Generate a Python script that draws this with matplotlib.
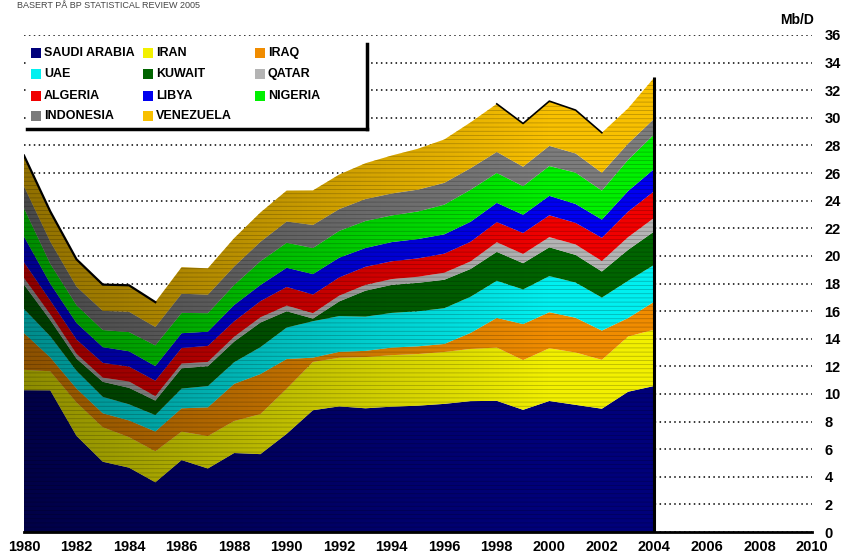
import matplotlib
matplotlib.use("Agg")
from matplotlib import pyplot as plt
from matplotlib.patches import Rectangle
from matplotlib.lines import Line2D
from matplotlib.colors import to_rgb
import numpy as np

plt.rcParams['font.family'] = ['Liberation Sans', 'DejaVu Sans']
plt.rcParams['hatch.linewidth'] = 0.5

# OPEC oil production, Mb/D
years = list(range(1980, 2005))
saudi = [10.27, 10.26, 6.96, 5.09, 4.66, 3.60, 5.21, 4.60, 5.72, 5.64, 7.11, 8.82, 9.10, 8.96, 9.08,
         9.15, 9.28, 9.48, 9.50, 8.85, 9.49, 9.21, 8.93, 10.16, 10.58]
iran = [1.48, 1.38, 2.42, 2.50, 2.21, 2.25, 2.06, 2.35, 2.32, 2.90, 3.27, 3.50, 3.52, 3.71, 3.73,
        3.74, 3.76, 3.78, 3.86, 3.60, 3.82, 3.79, 3.54, 4.00, 4.08]
iraq = [2.66, 1.01, 1.01, 1.01, 1.21, 1.43, 1.69, 2.08, 2.69, 2.90, 2.15, 0.31, 0.43, 0.45, 0.55,
        0.56, 0.58, 1.16, 2.15, 2.61, 2.61, 2.52, 2.12, 1.34, 2.03]
uae = [1.75, 1.53, 1.29, 1.19, 1.17, 1.19, 1.43, 1.54, 1.57, 1.95, 2.28, 2.64, 2.59, 2.48, 2.51,
       2.54, 2.59, 2.62, 2.69, 2.51, 2.62, 2.55, 2.39, 2.70, 2.67]
kuwait = [1.76, 1.17, 0.88, 1.09, 1.19, 1.05, 1.47, 1.44, 1.49, 1.78, 1.18, 0.19, 1.06, 1.88, 2.03,
          2.06, 2.06, 2.01, 2.09, 1.90, 2.08, 2.00, 1.89, 2.24, 2.42]
qatar = [0.48, 0.42, 0.34, 0.30, 0.46, 0.32, 0.34, 0.31, 0.35, 0.38, 0.41, 0.39, 0.42, 0.42, 0.42,
         0.44, 0.51, 0.55, 0.70, 0.67, 0.74, 0.76, 0.76, 0.92, 0.99]
algeria = [1.14, 1.00, 1.04, 1.07, 1.08, 1.12, 1.13, 1.16, 1.12, 1.17, 1.35, 1.35, 1.32, 1.31, 1.29,
           1.33, 1.38, 1.42, 1.46, 1.52, 1.58, 1.56, 1.68, 1.85, 1.93]
libya = [1.86, 1.22, 1.20, 1.14, 1.11, 1.06, 1.07, 1.03, 1.18, 1.17, 1.39, 1.48, 1.43, 1.36, 1.39,
         1.40, 1.40, 1.45, 1.39, 1.32, 1.41, 1.37, 1.32, 1.49, 1.61]
nigeria = [2.06, 1.44, 1.29, 1.24, 1.39, 1.50, 1.47, 1.34, 1.45, 1.72, 1.81, 1.89, 1.94, 1.96, 1.93,
           2.00, 2.15, 2.32, 2.17, 2.07, 2.16, 2.27, 2.10, 2.26, 2.51]
indonesia = [1.58, 1.61, 1.34, 1.39, 1.47, 1.33, 1.39, 1.34, 1.34, 1.41, 1.54, 1.67, 1.58, 1.59, 1.59,
             1.58, 1.58, 1.56, 1.52, 1.41, 1.46, 1.39, 1.29, 1.18, 1.13]
venezuela = [2.23, 2.18, 1.98, 1.90, 1.92, 1.80, 1.92, 1.91, 2.05, 2.12, 2.24, 2.50, 2.50, 2.59, 2.75,
             2.96, 3.14, 3.32, 3.48, 3.13, 3.24, 3.14, 2.90, 2.55, 2.98]

names = ['SAUDI ARABIA', 'IRAN', 'IRAQ', 'UAE', 'KUWAIT', 'QATAR',
         'ALGERIA', 'LIBYA', 'NIGERIA', 'INDONESIA', 'VENEZUELA']
series = [saudi, iran, iraq, uae, kuwait, qatar, algeria, libya, nigeria, indonesia, venezuela]
colors = ['#00007a', '#f2f000', '#f08c00', '#00f0f0', '#006400', '#b4b4b4',
          '#f00000', '#0000f0', '#00f000', '#7c7c7c', '#f8c000']

fig = plt.figure(figsize=(8.44, 5.56), dpi=100)
ax = fig.add_axes([24 / 844, 24 / 556, (812 - 24) / 844, (532 - 35) / 556])

yrs = np.array(years)
data = np.array(series)
total = data.sum(axis=0)

polys = ax.stackplot(yrs, data, colors=colors, linewidth=0, zorder=2)
for p, c in zip(polys, colors):
    dark = tuple(v * 0.72 for v in to_rgb(c))
    p.set_edgecolor(dark)
    p.set_linewidth(0)
    p.set_hatch('----')

# darker shading towards the left, like the original 3D rendering
shade = np.zeros((1, 240, 4))
fade = np.clip(np.linspace(0.42, -0.08, 240), 0, None)
shade[0, :, 3] = fade
im = ax.imshow(shade, extent=[1980, 2004, 0, 36], aspect='auto', zorder=3, interpolation='bilinear')
outline = ax.fill_between(yrs, 0, total, facecolor='none', linewidth=0)
im.set_clip_path(outline.get_paths()[0], ax.transData)

# black edges
ax.plot(yrs[:6], total[:6], color='black', lw=1.6, zorder=4)
ax.plot(yrs[18:23], total[18:23], color='black', lw=1.2, zorder=4)
ax.vlines(yrs[-1], 0, total[-1], color='black', lw=2.2, zorder=4)

ax.set_xlim(1980, 2010)
ax.set_ylim(0, 36)
ax.set_xticks(range(1980, 2011, 2))
ax.set_yticks(range(0, 37, 2))
ax.yaxis.tick_right()
ax.tick_params(axis='both', length=0, labelsize=10.5)
ax.tick_params(axis='y', pad=9)
ax.tick_params(axis='x', pad=6)
for lab in ax.get_xticklabels() + ax.get_yticklabels():
    lab.set_fontweight('bold')
ax.grid(axis='y', color='black', linestyle=(0, (1, 2.2)), linewidth=1.1, zorder=1)
ax.set_axisbelow(True)
for s in ['top', 'left', 'right']:
    ax.spines[s].set_visible(False)
ax.spines['bottom'].set_linewidth(2)
ax.spines['bottom'].set_zorder(5)

fig.text(797 / 844, 1 - 20 / 556, 'Mb/D', ha='center', va='center', fontsize=10, fontweight='bold')
fig.text(17 / 844, 1 - 1 / 556, 'BASERT PÅ BP STATISTICAL REVIEW 2005', ha='left', va='top',
         fontsize=6.5, color='#444444')

# legend box
W, H = 844, 556
fig.patches.append(Rectangle((27 / W, 1 - 129 / H), 340 / W, 86 / H, transform=fig.transFigure,
                             facecolor='white', edgecolor='none', zorder=5))
fig.lines.append(Line2D([367 / W, 367 / W], [1 - 44 / H, 1 - 129 / H], transform=fig.transFigure,
                        color='black', lw=2.5, zorder=6))
fig.lines.append(Line2D([27 / W, 367 / W], [1 - 129 / H, 1 - 129 / H], transform=fig.transFigure,
                        color='black', lw=2.5, zorder=6))
col_x = [31, 143, 255]
row_y = [53, 74, 96, 116]
for i, (name, c) in enumerate(zip(names, colors)):
    x0 = col_x[i % 3]
    y0 = row_y[i // 3]
    fig.patches.append(Rectangle((x0 / W, 1 - (y0 + 5) / H), 10 / W, 10 / H, transform=fig.transFigure,
                                 facecolor=c, edgecolor='none', zorder=6))
    fig.text((x0 + 13) / W, 1 - y0 / H, name, ha='left', va='center', fontsize=9,
             fontweight='bold', zorder=7)

fig.savefig('out.png', dpi=100)
